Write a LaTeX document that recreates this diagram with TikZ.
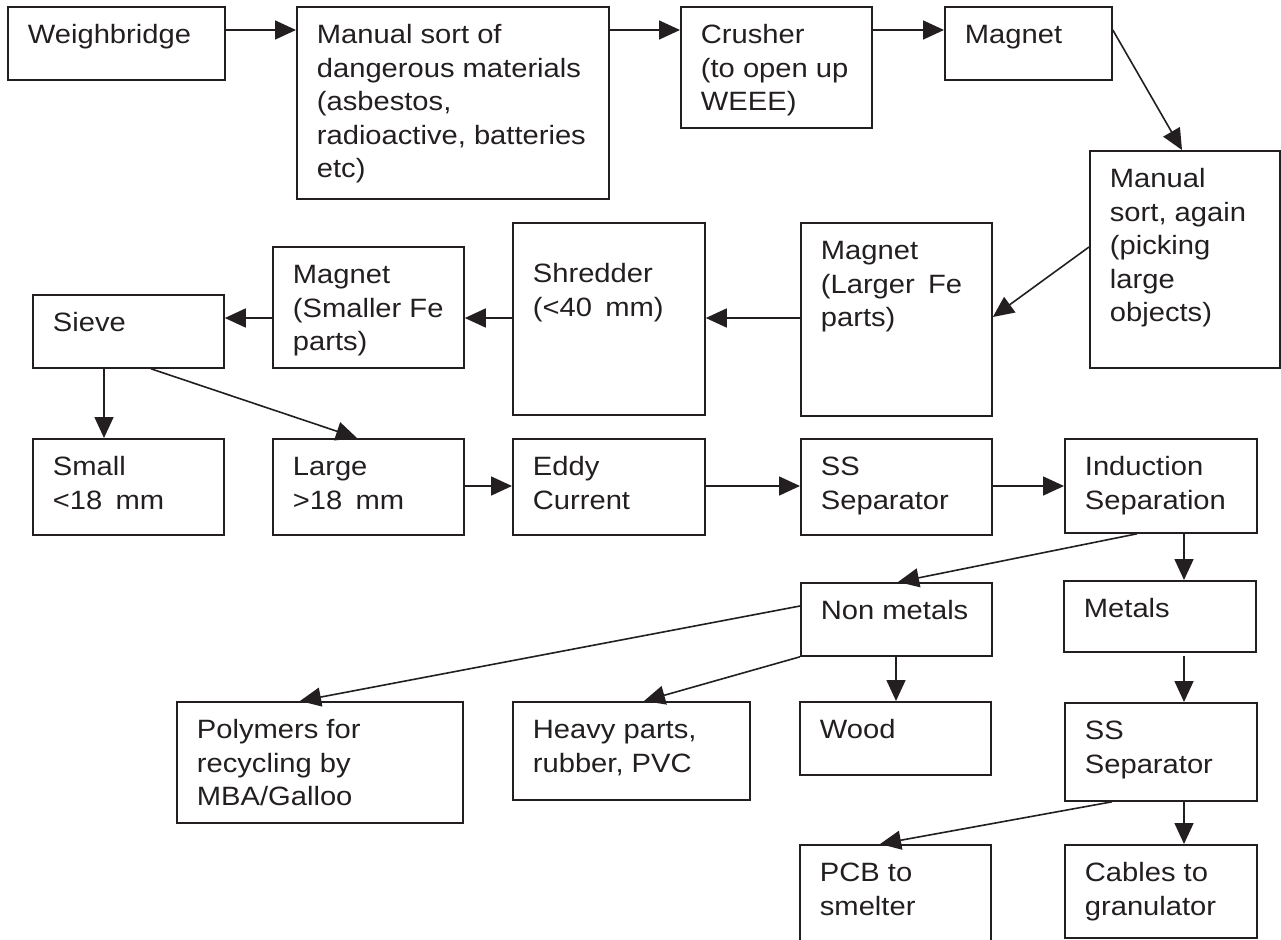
\documentclass[tikz,border=0pt]{standalone}
\usepackage{fontspec}
\setmainfont{Liberation Sans}[FakeStretch=1.1]
\usetikzlibrary{arrows.meta,calc}
\definecolor{ink}{RGB}{35,31,32}
% box text: [first baseline]{width}{height}{lines}
\newcommand{\bx}[4][37pt]{\parbox[t][#3][t]{#2}{\raggedright\leftskip=20pt\rule{0pt}{#1}#4}}
\begin{document}
\begin{tikzpicture}[x=1pt,y=-1pt,ink,line width=1.8pt,
    font=\fontsize{26.5}{33.5}\selectfont,
    blk/.style={draw,anchor=north west,inner sep=0pt},
    flow/.style={line width=1.6pt,-{Triangle[length=21pt,width=19pt]}}]
  \clip (0,0) rectangle (1281,939);
  % top row
  \node[blk] (weigh)   at (7,6)     {\bx{217pt}{73pt}{Weighbridge}};
  \node[blk] (manual)  at (296,6)   {\bx{312pt}{192pt}{Manual sort of\\dangerous materials\\(asbestos,\\radioactive, batteries\\etc)}};
  \node[blk] (crusher) at (680,6)   {\bx{191pt}{121pt}{Crusher\\(to open up\\WEEE)}};
  \node[blk] (magA)    at (944,6)   {\bx{167pt}{73pt}{Magnet}};
  \node[blk] (again)   at (1089,150){\bx{190pt}{217pt}{Manual\\sort, again\\(picking\\large\\objects)}};
  % second row, right to left
  \node[blk] (magL)    at (800,222) {\bx{191pt}{193pt}{Magnet\\(Larger\enspace Fe\\parts)}};
  \node[blk] (shred)   at (512,222) {\bx[60pt]{192pt}{192pt}{Shredder\\(<40\enspace mm)}};
  \node[blk] (magS)    at (272,246) {\bx{191pt}{121pt}{Magnet\\(Smaller Fe\\parts)}};
  \node[blk] (sieve)   at (32,294)  {\bx{191pt}{73pt}{Sieve}};
  % third row
  \node[blk] (small)   at (32,438)  {\bx{191pt}{96pt}{Small\\<18\enspace mm}};
  \node[blk] (large)   at (272,438) {\bx{191pt}{96pt}{Large\\>18\enspace mm}};
  \node[blk] (eddy)    at (512,438) {\bx{192pt}{96pt}{Eddy\\Current}};
  \node[blk] (sssep)   at (800,438) {\bx{191pt}{96pt}{SS\\Separator}};
  \node[blk] (induct)  at (1064,438){\bx{192pt}{94pt}{Induction\\Separation}};
  % outputs
  \node[blk] (nonmet)  at (800,582) {\bx{191pt}{73pt}{Non metals}};
  \node[blk] (metals)  at (1063,580){\bx{192pt}{71pt}{Metals}};
  \node[blk] (polym)   at (176,701) {\bx{286pt}{121pt}{Polymers for\\recycling by\\MBA/Galloo}};
  \node[blk] (heavy)   at (512,701) {\bx{237pt}{98pt}{Heavy parts,\\rubber, PVC}};
  \node[blk] (wood)    at (799,701) {\bx{191pt}{73pt}{Wood}};
  \node[blk] (ss2)     at (1064,702){\bx{192pt}{98pt}{SS\\Separator}};
  \node[blk] (pcb)     at (799,844) {\bx{191pt}{120pt}{PCB to\\smelter}};
  \node[blk] (cables)  at (1064,844){\bx{192pt}{93pt}{Cables to\\granulator}};
  % connectors
  \draw[flow] ($(weigh.north east)+(0,24)$) -- ($(manual.north west)+(0,24)$);
  \draw[flow] ($(manual.north east)+(0,24)$) -- ($(crusher.north west)+(0,24)$);
  \draw[flow] ($(crusher.north east)+(0,24)$) -- ($(magA.north west)+(0,24)$);
  \draw[flow] ($(magA.north east)+(0,24)$) -- ($(again.north west)+(93,0)$);
  \draw[flow] ($(again.north west)+(0,97)$) -- ($(magL.north east)+(0,95)$);
  \draw[flow] ($(magL.north west)+(0,96)$) -- ($(shred.north east)+(0,96)$);
  \draw[flow] ($(shred.north west)+(0,96)$) -- ($(magS.north east)+(0,72)$);
  \draw[flow] ($(magS.north west)+(0,72)$) -- ($(sieve.north east)+(0,24)$);
  \draw[flow] ($(sieve.south west)+(72,0)$) -- ($(small.north west)+(72,0)$);
  \draw[flow] ($(sieve.south west)+(119,0)$) -- ($(large.north west)+(85,0)$);
  \draw[flow] ($(large.north east)+(0,48)$) -- ($(eddy.north west)+(0,48)$);
  \draw[flow] ($(eddy.north east)+(0,48)$) -- ($(sssep.north west)+(0,48)$);
  \draw[flow] ($(sssep.north east)+(0,48)$) -- ($(induct.north west)+(0,48)$);
  \draw[flow] ($(induct.south west)+(73,0)$) -- ($(nonmet.north west)+(98,0)$);
  \draw[flow] ($(induct.south west)+(120,0)$) -- ($(metals.north west)+(121,0)$);
  \draw[flow] ($(nonmet.north west)+(0,24)$) -- ($(polym.north west)+(124,0)$);
  \draw[flow] (nonmet.south west) -- ($(heavy.north west)+(132,0)$);
  \draw[flow] ($(nonmet.south west)+(96,0)$) -- ($(wood.north west)+(97,0)$);
  \draw[flow] ($(metals.south west)+(121,3)$) -- ($(ss2.north west)+(120,0)$);
  \draw[flow] ($(ss2.south west)+(48,0)$) -- ($(pcb.north west)+(81,0)$);
  \draw[flow] ($(ss2.south west)+(120,0)$) -- ($(cables.north west)+(120,0)$);
\end{tikzpicture}
\end{document}
